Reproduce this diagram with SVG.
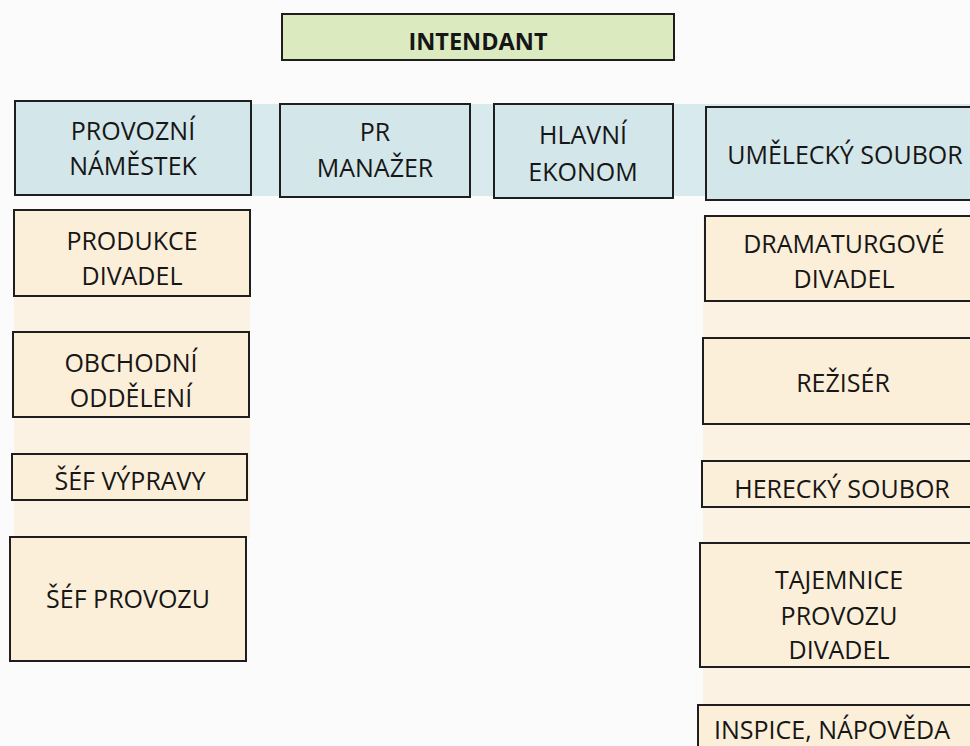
<svg xmlns="http://www.w3.org/2000/svg" width="970" height="746" viewBox="0 0 970 746">
<style>
.box{stroke:#1e1e1e;stroke-width:2}
.blue{fill:#d3e6ea}
.peach{fill:#fcefd9}
.green{fill:#dcebbf}
text{font-family:"Open Sans","Noto Sans","Liberation Sans",sans-serif;font-size:25px;fill:#161616;text-anchor:middle}
.b{font-weight:bold;font-size:23.5px}
</style>
<rect width="970" height="746" fill="#fbfbfb"/>
<g id="connectors">
<rect x="15" y="104" width="955" height="92" fill="#d9eaee"/>
<rect x="14" y="210" width="236" height="328" fill="#fbf2e3"/>
<rect x="703" y="216" width="267" height="530" fill="#fbf2e3"/>
</g>
<g id="intendant"><rect class="box green" x="282" y="14" width="392" height="46"/><text class="b" x="478" y="50">INTENDANT</text></g>
<g id="provozni"><rect class="box blue" x="15" y="101" width="236" height="94"/><text x="133" y="140">PROVOZNÍ</text><text x="133" y="175">NÁMĚSTEK</text></g>
<g id="pr"><rect class="box blue" x="280" y="104" width="190" height="93"/><text x="375" y="141">PR</text><text x="375" y="177">MANAŽER</text></g>
<g id="ekonom"><rect class="box blue" x="494" y="104" width="179" height="94"/><text x="583" y="144">HLAVNÍ</text><text x="583" y="181">EKONOM</text></g>
<g id="umelecky"><rect class="box blue" x="706" y="107" width="274" height="93"/><text x="845" y="164">UMĚLECKÝ SOUBOR</text></g>
<g id="produkce"><rect class="box peach" x="14" y="210" width="236" height="86"/><text x="132" y="250">PRODUKCE</text><text x="132" y="285">DIVADEL</text></g>
<g id="obchodni"><rect class="box peach" x="13" y="332" width="236" height="85"/><text x="131" y="372">OBCHODNÍ</text><text x="131" y="407">ODDĚLENÍ</text></g>
<g id="vyprava"><rect class="box peach" x="12" y="454" width="235" height="46"/><text x="130" y="490">ŠÉF VÝPRAVY</text></g>
<g id="provoz"><rect class="box peach" x="10" y="537" width="236" height="124"/><text x="128" y="608">ŠÉF PROVOZU</text></g>
<g id="dramaturg"><rect class="box peach" x="705" y="216" width="275" height="85"/><text x="844" y="253">DRAMATURGOVÉ</text><text x="844" y="288">DIVADEL</text></g>
<g id="reziser"><rect class="box peach" x="703" y="338" width="277" height="86"/><text x="843" y="392">REŽISÉR</text></g>
<g id="herecky"><rect class="box peach" x="702" y="461" width="278" height="46"/><text x="842" y="498">HERECKÝ SOUBOR</text></g>
<g id="tajemnice"><rect class="box peach" x="700" y="543" width="280" height="124"/><text x="839" y="589">TAJEMNICE</text><text x="839" y="625">PROVOZU</text><text x="839" y="659">DIVADEL</text></g>
<g id="inspice"><rect class="box peach" x="698" y="705" width="282" height="60"/><text x="832" y="739">INSPICE, NÁPOVĚDA</text></g>
</svg>
